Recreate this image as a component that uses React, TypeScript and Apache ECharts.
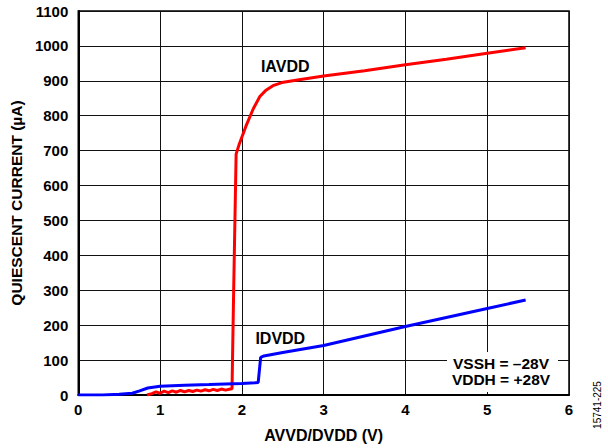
import React, { useEffect, useRef } from "react";
import * as echarts from "echarts";

const xTicks = [0, 1, 2, 3, 4, 5, 6];
const yTicks = [0, 100, 200, 300, 400, 500, 600, 700, 800, 900, 1000, 1100];

const iavddX = [0.84, 0.9, 0.95, 1.0, 1.05, 1.1, 1.15, 1.2, 1.25, 1.3, 1.35, 1.4, 1.45, 1.5, 1.55, 1.6, 1.65, 1.7, 1.75, 1.8, 1.86, 1.88, 1.9, 1.93, 1.97, 2.05, 2.14, 2.22, 2.29, 2.38, 2.49, 2.7, 3.0, 3.5, 4.0, 4.5, 5.0, 5.47];
const iavddY = [0, 4, 9, 5, 11, 7, 12, 8, 13, 9, 13, 10, 14, 11, 15, 12, 16, 13, 17, 14, 17, 18, 300, 690, 720, 770, 820, 855, 872, 886, 895, 903, 914, 929, 946, 962, 979, 995];

const idvddX = [0, 0.3, 0.5, 0.66, 0.75, 0.85, 1.0, 1.3, 1.6, 2.0, 2.16, 2.2, 2.23, 2.27, 2.5, 3.0, 3.5, 4.0, 4.5, 5.0, 5.47];
const idvddY = [0, 0, 2, 5, 12, 20, 25, 28, 30, 33, 35, 36, 108, 112, 122, 142, 169, 196, 222, 248, 272];

const seriesNames = ["IAVDD", "IDVDD"];
const noteLines = ["VSSH = \u201328V", "VDDH = +28V"];
const xName = "AVVD/DVDD (V)";
const yName = "QUIESCENT CURRENT (\u00b5A)";
const figId = "15741-225";

const FONT = "Liberation Sans, Arial, Helvetica, sans-serif";

export default function App() {
  const ref = useRef<HTMLDivElement>(null);
  useEffect(() => {
    if (!ref.current) return;
    const chart = echarts.init(ref.current, undefined, { renderer: "svg" });
    const zip = (xs: number[], ys: number[]) => xs.map((x, i) => [x, ys[i]]);
    chart.setOption({
      animation: false,
      backgroundColor: "#ffffff",
      grid: {
        left: 78,
        right: 39,
        top: 11,
        bottom: 52,
        show: true,
        borderColor: "#000",
        borderWidth: 1.5,
        backgroundColor: "transparent",
      },
      xAxis: {
        type: "value",
        min: xTicks[0],
        max: xTicks[xTicks.length - 1],
        interval: 1,
        name: xName,
        nameLocation: "middle",
        nameGap: 32,
        nameTextStyle: { fontFamily: FONT, fontWeight: "bold", fontSize: 16, color: "#000" },
        axisLine: { show: true, lineStyle: { color: "#000", width: 2 } },
        axisTick: { show: false },
        axisLabel: { fontFamily: FONT, fontWeight: "bold", fontSize: 15, color: "#000", margin: 7 },
        splitLine: { show: true, lineStyle: { color: "#111", width: 1 } },
      },
      yAxis: {
        type: "value",
        min: yTicks[0],
        max: yTicks[yTicks.length - 1],
        interval: 100,
        name: yName,
        nameLocation: "middle",
        nameGap: 51,
        nameRotate: 90,
        nameTextStyle: { fontFamily: FONT, fontWeight: "bold", fontSize: 15.5, color: "#000" },
        axisLine: { show: true, lineStyle: { color: "#000", width: 2 } },
        axisTick: { show: false },
        axisLabel: {
          fontFamily: FONT,
          fontWeight: "bold",
          fontSize: 15,
          color: "#000",
          margin: 10,
          formatter: (v: number) => String(v),
        },
        splitLine: { show: true, lineStyle: { color: "#111", width: 1 } },
      },
      series: [
        {
          name: seriesNames[0],
          type: "line",
          data: zip(iavddX, iavddY),
          showSymbol: false,
          smooth: false,
          lineStyle: { color: "#ff0000", width: 3 },
          z: 3,
        },
        {
          name: seriesNames[1],
          type: "line",
          data: zip(idvddX, idvddY),
          showSymbol: false,
          lineStyle: { color: "#0000ff", width: 3 },
          z: 4,
        },
      ],
    });

    const p1 = chart.convertToPixel({ gridIndex: 0 }, [2.53, 940]) as number[];
    const p2 = chart.convertToPixel({ gridIndex: 0 }, [2.47, 163]) as number[];
    chart.setOption({
      graphic: [
        {
          type: "text",
          x: p1[0],
          y: p1[1],
          style: { text: seriesNames[0], fontFamily: FONT, fontWeight: "bold", fontSize: 16, fill: "#000", align: "center", verticalAlign: "middle" },
          z: 10,
        },
        {
          type: "text",
          x: p2[0],
          y: p2[1],
          style: { text: seriesNames[1], fontFamily: FONT, fontWeight: "bold", fontSize: 16, fill: "#000", align: "center", verticalAlign: "middle" },
          z: 10,
        },
        {
          type: "rect",
          shape: { x: 447, y: 352, width: 111, height: 40 },
          style: { fill: "#fff" },
          z: 9,
        },
        {
          type: "text",
          x: 501,
          y: 371.5,
          style: {
            text: noteLines.join("\n"),
            fontFamily: FONT,
            fontWeight: "bold",
            fontSize: 15.5,
            lineHeight: 16.5,
            fill: "#000",
            align: "center",
            verticalAlign: "middle",
          },
          z: 10,
        },
        {
          type: "text",
          x: 597,
          y: 405,
          rotation: Math.PI / 2,
          style: { text: figId, fontFamily: FONT, fontSize: 10, fill: "#000", align: "center", verticalAlign: "middle" },
          z: 10,
        },
      ],
    });
    return () => chart.dispose();
  }, []);
  return <div ref={ref} style={{ width: 608, height: 448, position: "absolute", left: 0, top: 0 }} />;
}
